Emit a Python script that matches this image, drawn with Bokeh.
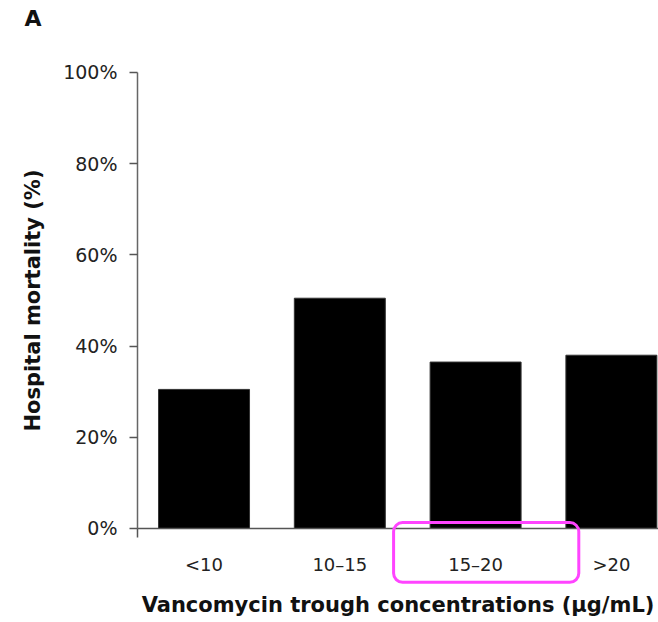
from bokeh.plotting import figure
from bokeh.models import Range1d, FixedTicker, PrintfTickFormatter, BoxAnnotation, ColumnDataSource, Label
from bokeh.embed import file_html
from bokeh.resources import INLINE

# data
categories = ["<10", "10–15", "15–20", ">20"]
mortality = [30.5, 50.5, 36.5, 38.0]
y_ticks = [0, 20, 40, 60, 80, 100]
highlight = "15–20"
panel_letter = "A"

xpos = list(range(len(categories)))
src = ColumnDataSource(dict(x=xpos, top=mortality, cat=categories))

FONT = "DejaVu Sans"
X0 = -0.49   # where the value axis sits (left end of the category axis)

# the frame fills the whole canvas; both axes are pinned with fixed_location
p = figure(width=658, height=620, output_backend="svg", toolbar_location=None,
           x_range=Range1d(-1.499, 3.347), y_range=Range1d(-20.18, 115.79),
           min_border=0,
           background_fill_color="white", border_fill_color="white")
p.outline_line_color = None
p.grid.visible = False

p.vbar(x="x", top="top", width=0.67, bottom=0, source=src,
       fill_color="black", line_color="#333333", line_width=1)

# x axis
xa = p.xaxis[0]
xa.fixed_location = 0
xa.bounds = (X0, 3.347)
xa.ticker = FixedTicker(ticks=xpos, minor_ticks=[X0])
xa.major_label_overrides = {i: c for i, c in zip(xpos, categories)}
xa.major_tick_out = 0
xa.major_tick_in = 0
xa.minor_tick_out = 9
xa.minor_tick_in = 0
xa.minor_tick_line_color = "#555555"
xa.minor_tick_line_width = 1.5
xa.axis_line_color = "#555555"
xa.axis_line_width = 1.5
xa.major_label_standoff = 17
xa.major_label_text_font = FONT
xa.major_label_text_font_size = "18px"
xa.major_label_text_color = "#222222"
xa.axis_label = "Vancomycin trough concentrations (µg/mL)"
xa.axis_label_text_font = FONT
xa.axis_label_text_font_style = "bold"
xa.axis_label_text_font_size = "21px"
xa.axis_label_text_color = "#111111"
xa.axis_label_standoff = 14

# y axis
ya = p.yaxis[0]
ya.fixed_location = X0
ya.bounds = (0, 100)
ya.ticker = FixedTicker(ticks=y_ticks, minor_ticks=[])
ya.formatter = PrintfTickFormatter(format="%d%%")
ya.major_tick_out = 8
ya.major_tick_in = 0
ya.major_tick_line_color = "#555555"
ya.major_tick_line_width = 1.5
ya.axis_line_color = "#666666"
ya.axis_line_width = 1.5
ya.major_label_standoff = 12
ya.major_label_text_font = FONT
ya.major_label_text_font_size = "19px"
ya.major_label_text_color = "#222222"
ya.axis_label = "Hospital mortality (%)"
ya.axis_label_text_font = FONT
ya.axis_label_text_font_style = "bold"
ya.axis_label_text_font_size = "21px"
ya.axis_label_text_color = "#111111"
ya.axis_label_standoff = 15

# highlight box around one category label
hi = categories.index(highlight)
box = BoxAnnotation(left=hi - 0.604, right=hi + 0.76, top=1.3, bottom=-11.8,
                    fill_alpha=0, line_color="#ff44ff", line_alpha=1.0,
                    line_width=3, border_radius=9)
p.add_layout(box)

# panel letter
p.add_layout(Label(x=-1.322, y=114.6, text=panel_letter, text_baseline="top",
                   text_font=FONT, text_font_style="bold", text_font_size="22px",
                   text_color="#111111"))

open("out.html", "w").write(file_html(p, INLINE))
